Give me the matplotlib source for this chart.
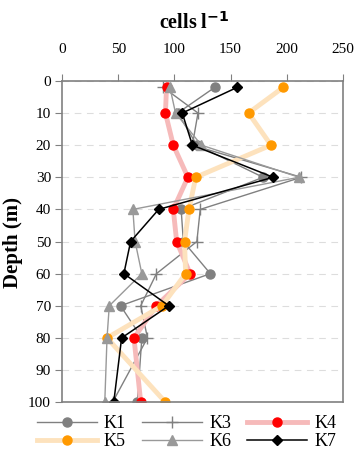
import matplotlib
matplotlib.use("Agg")
from matplotlib import pyplot as plt

plt.rcParams["font.family"] = ["Liberation Serif", "DejaVu Serif"]

# depth (m) and cell counts (cells l-1) read from the profile
depth = [2, 10, 20, 30, 40, 50, 60, 70, 80, 100]
k1 = [136, 103, 120, 179, 106, 108, 132, 52, 71, 67]
k3 = [90, 121, 116, 213, 123, 120, 84, 70, 76, 45]
k4 = [93, 92, 99, 112, 99, 102, 114, 84, 64, 70]
k5 = [197, 166, 186, 119, 113, 109, 110, 89, 40, 92]
k6 = [96, 101, 124, 211, 63, 65, 71, 42, 40, 38]
k7 = [156, 107, 116, 188, 86, 61, 55, 95, 53, 46]

x_ticks = [0, 50, 100, 150, 200, 250]
y_ticks = [0, 10, 20, 30, 40, 50, 60, 70, 80, 90, 100]

fig = plt.figure(figsize=(3.59, 4.57), dpi=100)
ax = fig.add_axes([0.173, 0.120, 0.782, 0.703])

l1, = ax.plot(k1, depth, color="#808080", lw=1.0, marker="o", ms=6.5, mfc="#808080", mec="#808080", label="K1")
l3, = ax.plot(k3, depth, color="#808080", lw=1.0, marker="+", ms=9, mew=1.0, label="K3")
l4, = ax.plot(k4, depth, color="#f6baba", lw=3.5, marker="o", ms=6.5, mfc="#ff0000", mec="#ff0000", label="K4")
l5, = ax.plot(k5, depth, color="#fde2bd", lw=3.5, marker="o", ms=6.5, mfc="#ff9900", mec="#ff9900", label="K5")
l6, = ax.plot(k6, depth, color="#999999", lw=1.0, marker="^", ms=6.5, mfc="#999999", mec="#999999", label="K6")
l7, = ax.plot(k7, depth, color="black", lw=1.1, marker="D", ms=5, mfc="black", mec="black", label="K7")

ax.set_xlim(0, 250)
ax.set_ylim(100, 0)
ax.set_xticks(x_ticks)
ax.set_yticks(y_ticks)
ax.xaxis.tick_top()
ax.tick_params(axis="x", direction="out", length=5, color="#808080", labelsize=11, pad=13)
ax.tick_params(axis="y", direction="out", length=5, color="#808080", labelsize=11, pad=3)
for s in ax.spines.values():
    s.set_color("#808080")
    s.set_linewidth(1.2)

ax.grid(axis="y", linestyle=(0, (6, 5)), color="#dddddd", lw=0.8)
ax.set_axisbelow(True)

fig.text(0.54, 0.950, "cells l$^{\\mathbf{-1}}$", ha="center", va="center", fontsize=14.5, fontweight="bold")
fig.text(0.035, 0.47, "Depth (m)", ha="center", va="center", rotation=90, fontsize=15, fontweight="bold")

# row-wise legend order: K1 K3 K4 / K5 K6 K7
handles = [l1, l5, l3, l6, l4, l7]
fig.legend(handles, [h.get_label() for h in handles], loc="lower center",
           bbox_to_anchor=(0.52, -0.02), ncol=3, frameon=False,
           fontsize=13, handlelength=3.3, columnspacing=0.9, handletextpad=0.4,
           labelspacing=0.05)

plt.savefig("out.png", dpi=100)
